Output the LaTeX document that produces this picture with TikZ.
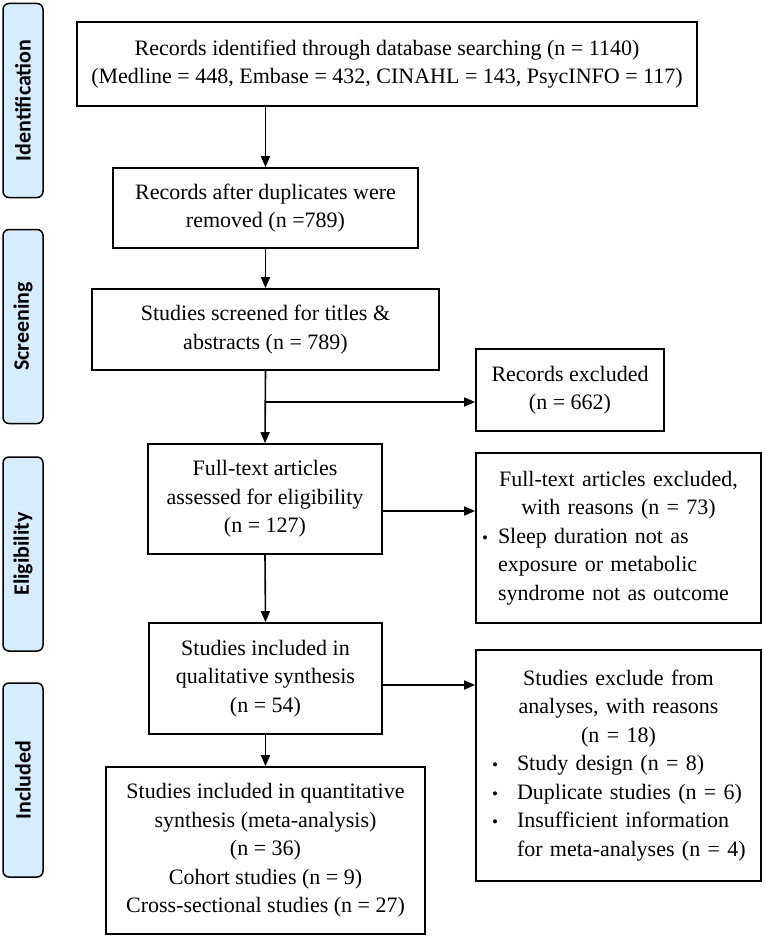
\documentclass[tikz,border=0pt]{standalone}
\usepackage{fontspec}
\setmainfont{Liberation Serif}
\newfontfamily\lblfont{Carlito}
\usetikzlibrary{arrows.meta}
\definecolor{lblblue}{RGB}{214,237,255}
\newcommand{\bul}{{\fontsize{17pt}{17pt}\selectfont\textbullet}}
\begin{document}
\begin{tikzpicture}[x=1pt,y=-1pt,
  box/.style={draw, line width=1.7pt, inner sep=0pt, align=center,
    font=\fontsize{22pt}{28.5pt}\selectfont},
  lbl/.style={draw, line width=1.5pt, rounded corners=6pt, fill=lblblue,
    rotate=90, inner sep=0pt, minimum width=194pt, minimum height=40pt,
    font=\lblfont\bfseries\fontsize{22pt}{26pt}\selectfont},
  arr/.style={line width=1.6pt, -{Triangle[length=11pt,width=9pt]}},
  ln/.style={line width=1.6pt}]
\useasboundingbox (0,0) rectangle (765,939);

% phase labels
\node[lbl] (l1) at (23,100.5) {Identification};
\node[lbl] (l2) at (23,326.5) {Screening};
\node[lbl] (l3) at (23,554) {Eligibility};
\node[lbl] (l4) at (23,780) {Included};

% main column
\node[box, minimum width=620pt, minimum height=84pt] (b1) at (387,64)
  {Records identified through database searching (n = 1140)\\
   (Medline = 448, Embase = 432, CINAHL = 143, PsycINFO = 117)};
\node[box, minimum width=305pt, minimum height=80pt] (b2) at (265.5,208)
  {Records after duplicates were\\ removed (n =789)};
\node[box, minimum width=347pt, minimum height=81pt] (b3) at (265.5,329.5)
  {Studies screened for titles \&\\ abstracts (n = 789)};
\node[box, minimum width=234pt, minimum height=110pt] (b4) at (265,499)
  {Full-text articles\\ assessed for eligibility\\ (n = 127)};
\node[box, minimum width=233pt, minimum height=111pt] (b5) at (265.5,678.5)
  {Studies included in\\ qualitative synthesis\\ (n = 54)};
\node[box, minimum width=319pt, minimum height=167pt] (b6) at (265.5,850.5)
  {Studies included in quantitative\\ synthesis (meta-analysis)\\ (n = 36)\\
   Cohort studies (n = 9)\\ Cross-sectional studies (n = 27)};

% right column
\node[box, minimum width=188pt, minimum height=82pt] (r1) at (570,390)
  {Records excluded\\ (n = 662)};
\node[box, minimum width=285pt, minimum height=170pt, text width=285pt, align=left] (r2) at (618.5,538)
  {{\centering Full-text articles excluded,\\ with reasons (n = 73)\par}
   \leftskip=22pt\noindent\llap{\bul\hspace{10pt}}Sleep duration not as\\
   exposure or metabolic\\ syndrome not as outcome\par};
\node[box, minimum width=285pt, minimum height=231pt, text width=285pt, align=left] (r3) at (618.5,765.5)
  {{\centering Studies exclude from\\ analyses, with reasons\\ (n = 18)\par}
   {\leftskip=41pt\noindent\llap{\bul\hspace{19pt}}Study design (n = 8)\par}
   {\leftskip=41pt\noindent\llap{\bul\hspace{19pt}}Duplicate studies (n = 6)\par}
   {\leftskip=41pt\noindent\llap{\bul\hspace{19pt}}Insufficient information\\
   for meta-analyses (n = 4)\par}};

% connectors
\draw[arr] (b2.north |- b1.south) -- (b2.north);
\draw[arr] (b2.south) -- (b3.north);
\draw[arr] (b3.south) -- (b4.north);
\draw[arr] (b3.south |- 0,402) -- (r1.west |- 0,402);
\draw[arr] (b4.east |- 0,511) -- (r2.west |- 0,511);
\draw[arr] (b4.south) -- (b5.north);
\draw[arr] (b5.east |- 0,685) -- (r3.west |- 0,685);
\draw[arr] (b5.south) -- (b6.north);
\end{tikzpicture}
\end{document}
